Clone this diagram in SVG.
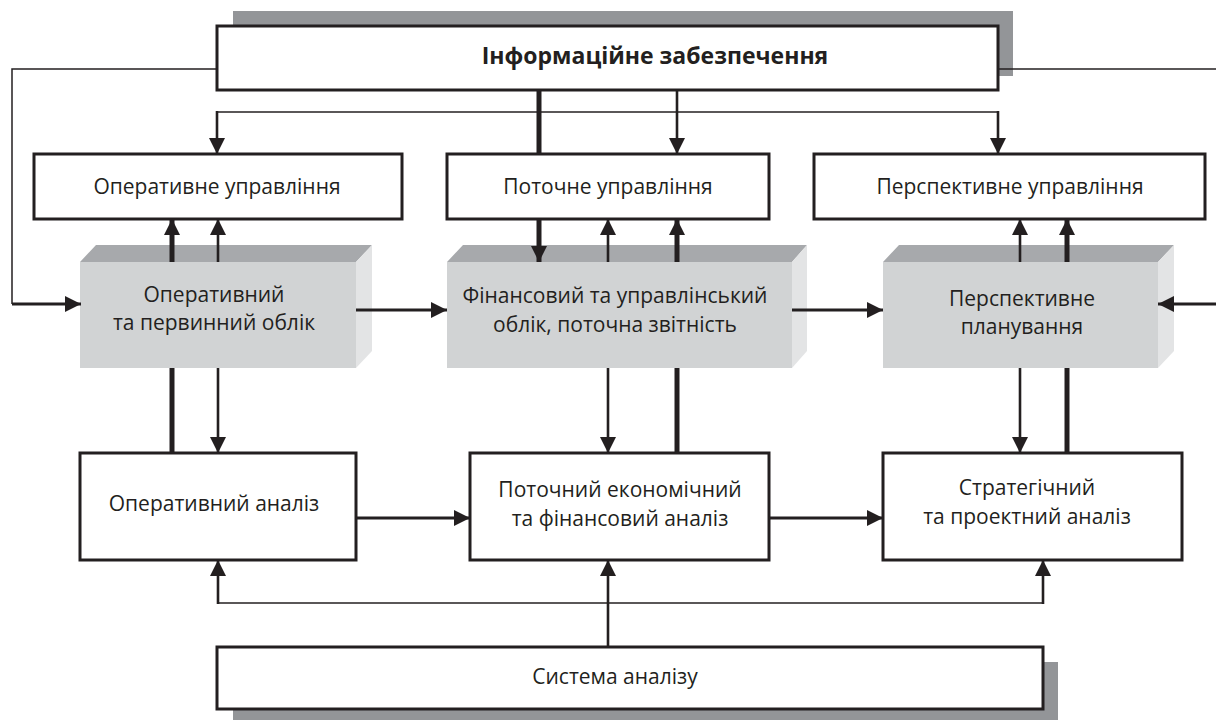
<svg xmlns="http://www.w3.org/2000/svg" width="1216" height="720" viewBox="0 0 1216 720">
<defs>
<style>
.box{fill:#fff;stroke:#231f20;stroke-width:3}
.shadow{fill:#939598}
.front{fill:#d1d3d4}
.top{fill:#a7a9ac}
.side{fill:#e3e4e5}
.t{font-family:"Open Sans","Noto Sans",sans-serif;font-size:21px;fill:#231f20;text-anchor:middle}
.b{font-weight:bold;font-size:23px}
.c{fill:none;stroke:#231f20}
.thin{stroke-width:1.5}
.med{stroke-width:2.6}
.h{stroke-width:3}
.thick{stroke-width:5}
</style>
<marker id="ah" viewBox="0 0 16 16" markerWidth="16" markerHeight="16" refX="16" refY="8" orient="auto" markerUnits="userSpaceOnUse">
<path d="M0,0 L16,8 L0,16 z" fill="#231f20"/>
</marker>
</defs>

<g id="info">
<rect class="shadow" x="233" y="11" width="780" height="65"/>
<rect class="box" x="217" y="26" width="781" height="64"/>
<text class="t b" x="655" y="64">Інформаційне забезпечення</text>
</g>

<g id="op-mgmt">
<rect class="box" x="34" y="154" width="368" height="65"/>
<text class="t" x="217" y="194">Оперативне управління</text>
</g>
<g id="cur-mgmt">
<rect class="box" x="447" y="154" width="322" height="65"/>
<text class="t" x="608" y="194">Поточне управління</text>
</g>
<g id="persp-mgmt">
<rect class="box" x="814" y="154" width="391" height="65"/>
<text class="t" x="1010" y="194">Перспективне управління</text>
</g>

<g id="op-acc">
<polygon class="top" points="80,262 96,245 372,245 356,262"/>
<polygon class="side" points="356,262 372,245 372,351 356,368"/>
<rect class="front" x="80" y="262" width="276" height="106"/>
<text class="t" x="214" y="302">Оперативний</text>
<text class="t" x="214" y="330">та первинний облік</text>
</g>
<g id="fin-acc">
<polygon class="top" points="447,262 463,245 807,245 792,262"/>
<polygon class="side" points="792,262 807,245 807,351 792,368"/>
<rect class="front" x="447" y="262" width="345" height="106"/>
<text class="t" x="615" y="303">Фінансовий та управлінський</text>
<text class="t" x="615" y="332">облік, поточна звітність</text>
</g>
<g id="persp-plan">
<polygon class="top" points="883,262 899,245 1174,245 1158,262"/>
<polygon class="side" points="1158,262 1174,245 1174,351 1158,368"/>
<rect class="front" x="883" y="262" width="275" height="106"/>
<text class="t" x="1022" y="306">Перспективне</text>
<text class="t" x="1022" y="334">планування</text>
</g>

<g id="op-an">
<rect class="box" x="80" y="453" width="276" height="107"/>
<text class="t" x="214" y="511">Оперативний аналіз</text>
</g>
<g id="cur-an">
<rect class="box" x="470" y="453" width="299" height="107"/>
<text class="t" x="620" y="497">Поточний економічний</text>
<text class="t" x="620" y="526">та фінансовий аналіз</text>
</g>
<g id="strat-an">
<rect class="box" x="883" y="453" width="299" height="107"/>
<text class="t" x="1027" y="495">Стратегічний</text>
<text class="t" x="1027" y="524">та проектний аналіз</text>
</g>

<g id="sys-an">
<rect class="shadow" x="233" y="662" width="825" height="62"/>
<rect class="box" x="217" y="647" width="826" height="62"/>
<text class="t" x="615" y="684">Система аналізу</text>
</g>

<g id="connectors">
<polyline class="c thin" points="217,69 12,69 12,304"/>
<line class="c h" x1="12" y1="304" x2="81" y2="304" marker-end="url(#ah)"/>
<line class="c thin" x1="998" y1="69" x2="1216" y2="69"/>
<line class="c h" x1="1216" y1="304" x2="1158" y2="304" marker-end="url(#ah)"/>

<line class="c thin" x1="217" y1="112" x2="998" y2="112"/>
<line class="c med" x1="217" y1="111" x2="217" y2="154" marker-end="url(#ah)"/>
<line class="c med" x1="998" y1="111" x2="998" y2="154" marker-end="url(#ah)"/>
<line class="c med" x1="677" y1="90" x2="677" y2="154" marker-end="url(#ah)"/>
<line class="c thick" x1="539" y1="90" x2="539" y2="154"/>
<line class="c thick" x1="539" y1="219" x2="539" y2="262" marker-end="url(#ah)"/>

<line class="c thick" x1="172" y1="262" x2="172" y2="219" marker-end="url(#ah)"/>
<line class="c med" x1="218" y1="262" x2="218" y2="219" marker-end="url(#ah)"/>
<line class="c med" x1="608" y1="262" x2="608" y2="219" marker-end="url(#ah)"/>
<line class="c thick" x1="677" y1="262" x2="677" y2="219" marker-end="url(#ah)"/>
<line class="c med" x1="1020" y1="262" x2="1020" y2="219" marker-end="url(#ah)"/>
<line class="c thick" x1="1067" y1="262" x2="1067" y2="219" marker-end="url(#ah)"/>

<line class="c h" x1="356" y1="310" x2="447" y2="310" marker-end="url(#ah)"/>
<line class="c h" x1="792" y1="310" x2="883" y2="310" marker-end="url(#ah)"/>

<line class="c thick" x1="172" y1="368" x2="172" y2="453"/>
<line class="c med" x1="218" y1="368" x2="218" y2="453" marker-end="url(#ah)"/>
<line class="c med" x1="608" y1="368" x2="608" y2="453" marker-end="url(#ah)"/>
<line class="c thick" x1="677" y1="368" x2="677" y2="453"/>
<line class="c med" x1="1020" y1="368" x2="1020" y2="453" marker-end="url(#ah)"/>
<line class="c thick" x1="1067" y1="368" x2="1067" y2="453"/>

<line class="c h" x1="356" y1="518" x2="470" y2="518" marker-end="url(#ah)"/>
<line class="c h" x1="769" y1="518" x2="883" y2="518" marker-end="url(#ah)"/>

<line class="c thin" x1="218" y1="603" x2="1043" y2="603"/>
<line class="c med" x1="218" y1="604" x2="218" y2="560" marker-end="url(#ah)"/>
<line class="c med" x1="1043" y1="604" x2="1043" y2="560" marker-end="url(#ah)"/>
<line class="c med" x1="608" y1="647" x2="608" y2="560" marker-end="url(#ah)"/>
</g>
</svg>
